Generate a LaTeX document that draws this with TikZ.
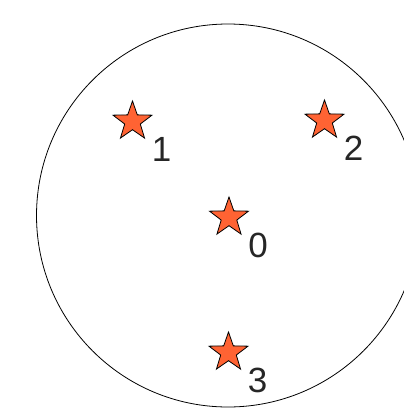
\documentclass[tikz,border=0pt]{standalone}
\usepackage{fontspec}
\setmainfont{Liberation Sans}
\usetikzlibrary{calc,shapes.geometric}

\definecolor{starfill}{RGB}{255,99,51}
\tikzset{
  site/.style={star,star points=5,star point ratio=2.5,draw=black,line width=0.8pt,
    fill=starfill,inner sep=0pt,minimum size=41pt},
  sitelabel/.style={inner sep=0pt,text=black!85,font=\fontsize{35}{40}\selectfont}
}

\begin{document}
\begin{tikzpicture}[x=1pt,y=-1pt]
  \useasboundingbox (0,0) rectangle (404,408);
  \clip (0,0) rectangle (404,408);
  \draw[line width=0.8pt] (228,215.5) circle (191.5);
  \foreach \n/\px/\py in {0/229/217.5,1/132.5/121.5,2/324.5/120.5,3/228.5/352.5}{
    \node[site] (s\n) at (\px,\py) {};
    \node[sitelabel] (l\n) at ($(s\n.center)+(29,28)$) {\n};
  }
\end{tikzpicture}
\end{document}
